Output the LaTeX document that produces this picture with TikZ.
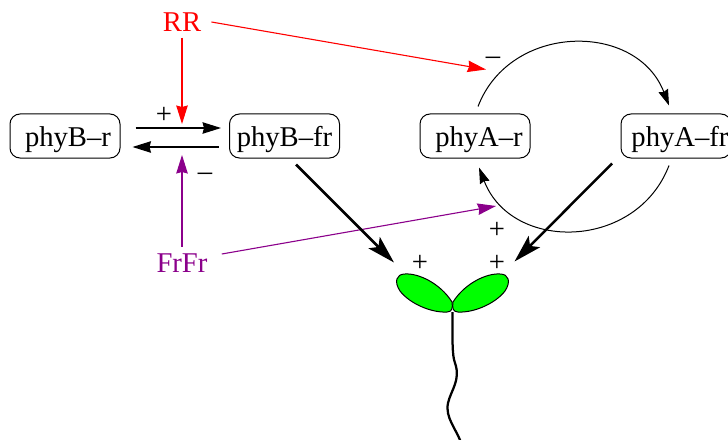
\documentclass[tikz,border=0pt]{standalone}
\usepackage{fontspec}
\setmainfont{Liberation Serif}
\usetikzlibrary{arrows.meta}
\tikzset{
	every node/.style={font=\fontsize{16.3}{18}\selectfont, inner sep=0pt},
	phybox/.style={draw, line width=0.02cm, rounded corners=0.2cm, minimum width=2.2cm, minimum height=0.88cm, text height=0.42cm, text depth=0cm},
	thin tip/.style={-{Stealth[length=0.37cm,width=0.23cm,inset=0.03cm]}, line width=0.022cm},
	bend tip/.style={-{Stealth[length=0.32cm,width=0.2cm,inset=0.03cm]}, line width=0.02cm},
	heavy tip/.style={-{Stealth[length=0.56cm,width=0.32cm,inset=0.12cm]}, line width=0.05cm},
	leaf/.style={draw, fill=green, line width=0.02cm},
}
\definecolor{frpurple}{RGB}{139,0,139}
\begin{document}
\begin{tikzpicture}
	\useasboundingbox (0,0) rectangle (14.56,-8.78);
	
	\node[red] (rr) at (3.64,-0.44) {RR};
	\node[frpurple] (frfr) at (3.64,-5.27) {FrFr};
	
	\node[phybox] (br) at (1.30,-2.72) {\hspace{0.12cm}phyB--r};
	\node[phybox] (bfr) at (5.69,-2.72) {phyB--fr};
	\node[phybox] (ar) at (9.50,-2.72) {\hspace{0.16cm}phyA--r};
	\node[phybox] (afr) at (13.52,-2.72) {\hspace{0.16cm}phyA--fr};
	
	\node (p1) at (3.28,-2.31) {+};
	\node (m1) at (4.10,-3.54) {--};
	\node (m2) at (9.86,-1.22) {--};
	\node (p2) at (9.94,-4.60) {+};
	\node (p3) at (8.40,-5.26) {+};
	\node (p4) at (9.94,-5.26) {+};
	
	% free ends of the light arrows
	\coordinate (rrdown) at (3.64,-2.48);
	\coordinate (frup) at (3.64,-3.10);
	\coordinate (rrend) at (9.72,-1.39);
	\coordinate (frend) at (9.92,-4.12);
	\coordinate (leftplus) at (7.88,-5.25);
	\coordinate (rightplus) at (10.29,-5.23);
	
	\draw[thin tip, red] ([yshift=-0.12cm]rr.south) -- (rrdown);
	\draw[thin tip, frpurple] ([yshift=0.14cm]frfr.north) -- (frup);
	\draw[thin tip, red] ([shift={(0.20,0)}]rr.east) -- (rrend);
	\draw[thin tip, frpurple] ([shift={(0.28,0.19)}]frfr.east) -- (frend);
	
	\draw[thin tip] ([shift={(0.30,0.16)}]br.east) -- ([shift={(-0.16,0.16)}]bfr.west);
	\draw[thin tip] ([shift={(-0.21,-0.22)}]bfr.west) -- ([shift={(0.24,-0.22)}]br.east);
	
	\draw[bend tip] ([shift={(0.06,0.14)}]ar.north) to[out=69,in=111,distance=1.80cm] ([shift={(-0.14,0.16)}]afr.north);
	\draw[bend tip] ([shift={(-0.14,-0.14)}]afr.south) to[out=-111,in=-69,distance=1.82cm] ([shift={(0.08,-0.18)}]ar.south);
	
	\draw[heavy tip] ([shift={(0.23,-0.12)}]bfr.south) -- (leftplus);
	\draw[heavy tip] ([shift={(-1.28,-0.10)}]afr.south) -- (rightplus);
	
	% seedling
	\draw[line width=0.045cm] (9.05,-6.24) .. controls (9.05,-6.80) and (9.04,-7.10) .. (9.10,-7.26)
		.. controls (9.22,-7.60) and (9.02,-7.80) .. (8.96,-8.06)
		.. controls (8.90,-8.36) and (9.12,-8.56) .. (9.24,-8.90);
	\draw[leaf] (9.04,-6.04) .. controls (8.80,-5.66) and (8.36,-5.46) .. (8.10,-5.48)
		.. controls (7.92,-5.48) and (7.88,-5.64) .. (8.00,-5.82)
		.. controls (8.20,-6.08) and (8.64,-6.26) .. (8.94,-6.24)
		.. controls (9.04,-6.24) and (9.06,-6.16) .. (9.04,-6.04) -- cycle;
	\draw[leaf] (9.06,-6.04) .. controls (9.30,-5.66) and (9.74,-5.46) .. (10.00,-5.48)
		.. controls (10.18,-5.48) and (10.22,-5.64) .. (10.10,-5.82)
		.. controls (9.90,-6.08) and (9.46,-6.26) .. (9.16,-6.24)
		.. controls (9.06,-6.24) and (9.04,-6.16) .. (9.06,-6.04) -- cycle;
\end{tikzpicture}
\end{document}
